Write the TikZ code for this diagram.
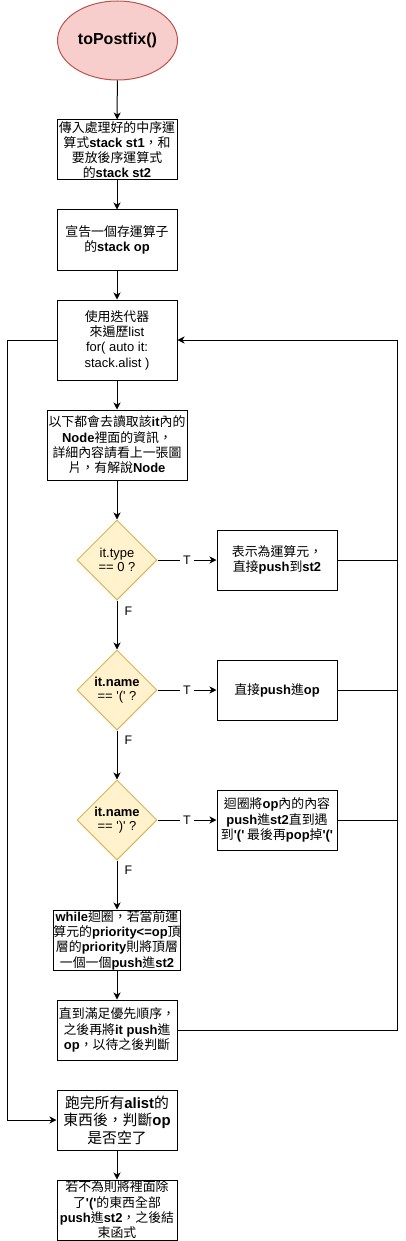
\documentclass[tikz,border=0pt]{standalone}
\usepackage{fontspec}
\setmainfont{Noto Sans CJK TC}[Scale=1.075]
\newfontfamily\lat{Liberation Sans}[Scale=1.08]
\newcommand\B[1]{{\lat\bfseries #1}}
\usetikzlibrary{shapes.geometric,arrows.meta}
\definecolor{startfill}{HTML}{F8CECC}
\definecolor{startdraw}{HTML}{B85450}
\definecolor{decfill}{HTML}{FFF2CC}
\definecolor{decdraw}{HTML}{D6B656}
\tikzset{
  box/.style={draw=black, line width=1pt, minimum width=120pt, minimum height=60pt,
    inner sep=0pt, align=center, font=\fontsize{12}{15.3}\selectfont},
  decision/.style={diamond, draw=decdraw, fill=decfill, line width=1pt, aspect=1,
    minimum width=80pt, minimum height=80pt, inner sep=0pt, align=center,
    font=\lat\fontsize{12}{14.5}\selectfont},
  startnode/.style={ellipse, draw=startdraw, fill=startfill, line width=1pt,
    minimum width=120pt, minimum height=79pt, inner sep=0pt,
    font=\lat\bfseries\fontsize{14.8}{18}\selectfont},
  arr/.style={line width=1pt, -{Stealth[length=7pt,width=7pt,inset=2pt]}},
  ln/.style={line width=1pt},
  tlabel/.style={fill=white, inner sep=3pt, font=\lat\fontsize{11.5}{14}\selectfont},
  flabel/.style={anchor=west, inner sep=0pt, xshift=7pt, font=\lat\fontsize{11.5}{14}\selectfont}
}
\begin{document}
\begin{tikzpicture}[x=1pt,y=-1pt]
\useasboundingbox (0,0) rectangle (406,1241);
\node[startnode] (start) at (117.5,40.5) {toPostfix()};
\node[box] (b1) at (117,150) {傳入處理好的中序運\\算式\B{stack st1}，和\\要放後序運算式\\的\B{stack st2}};
\node[box] (b2) at (117,240) {宣告一個存運算子\\的\B{stack op}};
\node[box, minimum height=80pt] (b3) at (117,340) {使用迭代器\\來遍歷{\lat list}\\{\lat for( auto it:}\\{\lat stack.alist )}};
\node[box, minimum width=140pt, minimum height=70pt] (b4) at (117,445) {以下都會去讀取該\B{it}內的\\\B{Node}裡面的資訊，\\詳細內容請看上一張圖\\片，有解說\B{Node}};
\node[decision] (d1) at (117,560) {it.type\\== 0 ?};
\node[box] (t1) at (277,560) {表示為運算元，\\直接\B{push}到\B{st2}};
\node[decision] (d2) at (117,690) {\bfseries it.name\\== '(' ?};
\node[box] (t2) at (277,690) {直接\B{push}進\B{op}};
\node[decision] (d3) at (117,820) {\bfseries it.name\\== ')' ?};
\node[box] (t3) at (277,820) {迴圈將\B{op}內的內容\\\B{push}進\B{st2}直到遇\\到\B{'('} 最後再\B{pop}掉\B{'('}};
\node[box] (b5) at (117,940) {\B{while}迴圈，若當前運\\算元的\B{priority<=op}頂\\層的\B{priority}則將頂層\\一個一個\B{push}進\B{st2}};
\node[box] (b6) at (117,1030) {直到滿足優先順序，\\之後再將\B{it push}進\\\B{op}，以待之後判斷};
\node[box, font=\fontsize{13.8}{17.5}\selectfont] (b7) at (117,1120) {跑完所有\B{alist}的\\東西後，判斷\B{op}\\是否空了};
\node[box] (b8) at (117,1210) {若不為則將裡面除\\了\B{'('}的東西全部\\\B{push}進\B{st2}，之後結\\束函式};
\coordinate (r6) at (397.5,1030);
\coordinate (lft) at (7.5,340);
\draw[arr] (start) -- (b1);
\draw[arr] (b1) -- (b2);
\draw[arr] (b2) -- (b3);
\draw[arr] (b3) -- (b4);
\draw[arr] (b4) -- (d1);
\draw[arr] (d1) -- node[tlabel] {T} (t1);
\draw[arr] (d2) -- node[tlabel] {T} (t2);
\draw[arr] (d3) -- node[tlabel] {T} (t3);
\draw[arr] (d1) -- node[flabel, pos=0.22] {F} (d2);
\draw[arr] (d2) -- node[flabel, pos=0.2] {F} (d3);
\draw[arr] (d3) -- node[flabel, pos=0.2] {F} (b5);
\draw[arr] (b5) -- (b6);
\draw[arr] (b7) -- (b8);
\draw[ln] (t1.east) -- (t1.east -| r6);
\draw[ln] (t2.east) -- (t2.east -| r6);
\draw[ln] (t3.east) -- (t3.east -| r6);
\draw[arr] (b6.east) -- (r6) |- (b3.east);
\draw[arr] (b3.west) -- (lft) |- (b7.west);
\end{tikzpicture}
\end{document}
